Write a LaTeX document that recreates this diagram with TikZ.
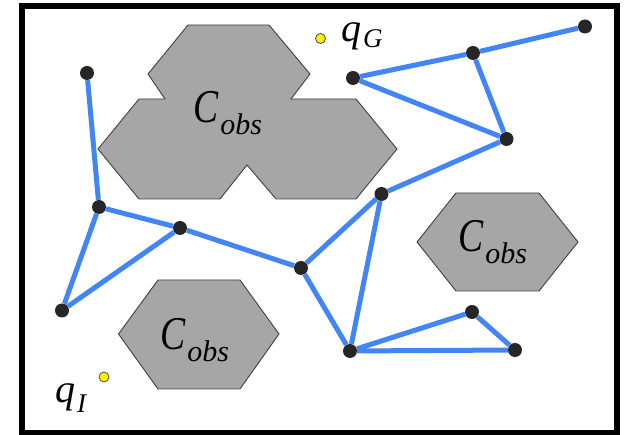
\documentclass[tikz,border=0pt]{standalone}
\usepackage{fontspec}
\setmainfont{Liberation Serif}
\usepackage{xcolor}
\usepackage{tikz}

\definecolor{edgeblue}{RGB}{66,133,244}
\definecolor{obsgray}{RGB}{166,166,166}

\newcommand{\cobs}{{\itshape\fontsize{47}{47}\selectfont\scalebox{0.8}[1]{C}\kern2pt\raisebox{-12pt}{\fontsize{30}{30}\selectfont obs}}}
\newcommand{\qlab}[2]{{\itshape\fontsize{40}{40}\selectfont q\kern2pt\raisebox{-#2}{\fontsize{27}{27}\selectfont #1}}}

\begin{document}
\begin{tikzpicture}[x=1pt,y=-1pt,
  vertex/.style={circle,fill=black!85,inner sep=0pt,minimum size=14pt},
  query/.style={circle,draw=black!70,fill=yellow,line width=0.8pt,inner sep=0pt,minimum size=10pt},
  edge/.style={draw=edgeblue,line width=5pt},
  obstacle/.style={fill=obsgray,draw=black!75,line width=0.9pt},
  txt/.style={inner sep=0pt,anchor=base west}]
  \useasboundingbox (0,0) rectangle (625,435);
  \draw[line width=6pt] (21.7,6.3) rectangle (617.2,432.8);
  % obstacles
  \draw[obstacle] (188,25)--(269,25)--(310,74)--(291,99)--(356,99)--(397,149)--(356,199)
    --(276,199)--(247,165)--(220,199)--(139,199)--(98,149)--(139,99)--(165,99)--(148,74)--cycle;
  \draw[obstacle] (456,193)--(539,193)--(578,242)--(539,291)--(456,291)--(417,242)--cycle;
  \draw[obstacle] (158,280)--(240,280)--(279,334)--(240,389)--(158,389)--(118.5,334)--cycle;
  \node[txt] (cbig)   at (193,123) {\cobs};
  \node[txt] (cright) at (458,252) {\cobs};
  \node[txt] (cleft)  at (160,350) {\cobs};
  % roadmap vertices
  \node[vertex] (n1)  at (87,73)   {};
  \node[vertex] (n2)  at (99,207)  {};
  \node[vertex] (n3)  at (180,228) {};
  \node[vertex] (n4)  at (62,310.5) {};
  \node[vertex] (n5)  at (301,268) {};
  \node[vertex] (n6)  at (381.5,194) {};
  \node[vertex] (n7)  at (506.5,139) {};
  \node[vertex] (n8)  at (353,78)  {};
  \node[vertex] (n9)  at (473,53)  {};
  \node[vertex] (n10) at (585,26.5) {};
  \node[vertex] (n11) at (350,351) {};
  \node[vertex] (n12) at (472,312) {};
  \node[vertex] (n13) at (515,350) {};
  % roadmap edges
  \draw[edge] (n1)--(n2);
  \draw[edge] (n2)--(n4);
  \draw[edge] (n4)--(n3);
  \draw[edge] (n2)--(n3);
  \draw[edge] (n3)--(n5);
  \draw[edge] (n5)--(n6);
  \draw[edge] (n5)--(n11);
  \draw[edge] (n6)--(n11);
  \draw[edge] (n6)--(n7);
  \draw[edge] (n7)--(n8);
  \draw[edge] (n8)--(n9);
  \draw[edge] (n9)--(n7);
  \draw[edge] (n9)--(n10);
  \draw[edge] (n11)--(n12);
  \draw[edge] (n12)--(n13);
  \draw[edge] (n11)--(n13);
  % start and goal
  \node[query] (qg) at (320.5,38.5) {};
  \node[query] (qi) at (104,377)   {};
  \node[txt] (qglab) at (341,42)  {\qlab{G}{6pt}};
  \node[txt] (qilab) at (55,403)  {\qlab{I}{10pt}};
\end{tikzpicture}
\end{document}
